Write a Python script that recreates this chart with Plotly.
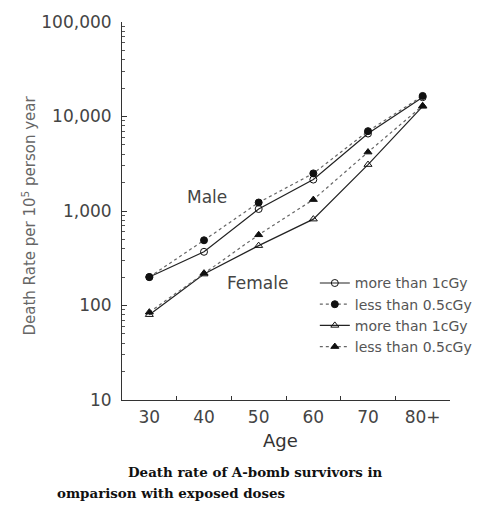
import plotly.graph_objects as go

ages = ["30", "40", "50", "60", "70", "80+"]
male_more = [200, 370, 1050, 2150, 6600, 16000]
male_less = [200, 490, 1230, 2500, 7000, 16500]
female_more = [80, 215, 430, 820, 3100, 12800]
female_less = [85, 220, 560, 1320, 4200, 13000]

series = [
    ("more than 1cGy", male_more, "circle-open", "solid", "#222"),
    ("less than 0.5cGy", male_less, "circle", "dot", "#666"),
    ("more than 1cGy", female_more, "triangle-up-open", "solid", "#222"),
    ("less than 0.5cGy", female_less, "triangle-up", "dot", "#666"),
]

fig = go.Figure()
for name, vals, sym, dash, col in series:
    fig.add_trace(go.Scatter(
        x=ages, y=vals, name=name, mode="lines+markers",
        line=dict(color=col, width=1.2, dash=dash),
        marker=dict(symbol=sym, size=7, color="#111", line=dict(color="#111", width=1)),
    ))

L, R, T, B = 122, 37, 18, 105
W, H = 489, 505
pw = W - L - R
ph = H - T - B

def px_x(x):
    return (x - L) / pw

def px_y(y):
    return (H - B - y) / ph

minor_vals = [m * 10 ** k for k in range(1, 5) for m in range(2, 10)]

def ann(text, x, y, size, color, family="DejaVu Sans", xanchor="center", angle=0):
    return dict(text=text, xref="paper", yref="paper", x=px_x(x), y=px_y(y),
                xanchor=xanchor, yanchor="middle", showarrow=False, textangle=angle,
                font=dict(family=family, size=size, color=color))

fig.update_layout(
    width=W, height=H,
    margin=dict(l=L, r=R, t=T, b=B),
    paper_bgcolor="white", plot_bgcolor="white",
    font=dict(family="DejaVu Sans", color="#444"),
    showlegend=True,
    legend=dict(x=px_x(316), y=px_y(266), xanchor="left", yanchor="top",
                font=dict(size=14, color="#555"), bgcolor="rgba(0,0,0,0)",
                tracegroupgap=0, itemwidth=30),
    xaxis=dict(type="category", range=[-0.5, 5.5], showline=True, linecolor="#333",
               linewidth=1, showgrid=False, zeroline=False, tickson="boundaries",
               ticks="inside", ticklen=4, tickcolor="#333",
               tickfont=dict(size=17, color="#444"), ticklabelstandoff=2),
    yaxis=dict(type="log", range=[1, 5], showline=True, linecolor="#333", linewidth=1,
               showgrid=False, zeroline=False, ticks="inside", ticklen=5, tickcolor="#333",
               tickvals=[10, 100, 1000, 10000, 100000],
               ticktext=["10", "100", "1,000", "10,000", "100,000"],
               tickfont=dict(size=17, color="#444"), ticklabelstandoff=6,
               minor=dict(tickvals=minor_vals, ticks="inside", ticklen=3, tickcolor="#555")),
    annotations=[
        ann("Death Rate per 10<sup>5</sup> person year", 28, 214, 15, "#666", angle=-90),
        ann("Age", 281, 441, 18, "#333"),
        ann("Male", 208, 195, 17, "#444"),
        ann("Female", 258, 282, 17, "#444"),
        ann("<b>Death rate of A-bomb survivors in</b>", 256, 473, 13.4, "#111",
            family="DejaVu Serif"),
        ann("<b>omparison with exposed doses</b>", 55, 494, 13.4, "#111",
            family="DejaVu Serif", xanchor="left"),
    ],
)

fig.write_html("out.html")
